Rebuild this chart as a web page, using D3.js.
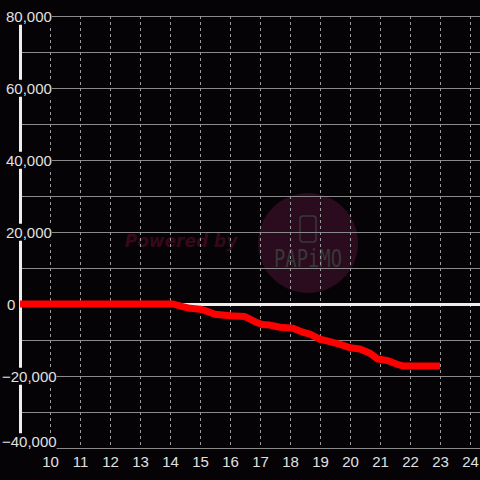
<!DOCTYPE html>
<html>
<head>
<meta charset="utf-8">
<script src="https://d3js.org/d3.v7.min.js"></script>
<style>
  body { margin: 0; background: #050306; }
  svg { display: block; }
</style>
</head>
<body>
<div id="chart"></div>
<script>
var svgWidth = 480;
var svgHeight = 480;

// hours of the day and the running value
var hours = [9, 14.1, 14.33, 14.67, 15.0, 15.17, 15.5, 16.0, 16.5, 16.83, 17.07, 17.33, 17.67, 18.1,
  18.43, 18.67, 19.0, 19.33, 19.67, 20.0, 20.33, 20.67, 20.93, 21.27, 21.57, 21.77, 23.0];
var values = [0, 0, -550, -1200, -1450, -1850, -2850, -3250, -3500, -4900, -5700, -5850, -6450, -6750,
  -7850, -8350, -9800, -10450, -11200, -12150, -12500, -13700, -15300, -15750, -16750, -17200, -17200];

var yTicks = [-40000, -20000, 0, 20000, 40000, 60000, 80000];
var yGrid = [-40000, -30000, -20000, -10000, 10000, 20000, 30000, 40000, 50000, 60000, 70000, 80000];
var xTicks = [10, 11, 12, 13, 14, 15, 16, 17, 18, 19, 20, 21, 22, 23, 24];

var lineData = hours.map(function(h, i) { return {hour: h, value: values[i]}; });

var svg = d3.select("#chart")
  .append("svg")
  .attr("width", svgWidth)
  .attr("height", svgHeight);

svg.append("rect")
  .attr("width", svgWidth)
  .attr("height", svgHeight)
  .attr("fill", "#050306");

var xScale = d3.scaleLinear()
  .domain([9, 24])
  .range([20, 470]);

var yScale = d3.scaleLinear()
  .domain([-40000, 80000])
  .range([448, 16]);

// watermark, sits under the grid
var wm = svg.append("g");
wm.append("circle")
  .attr("cx", 308)
  .attr("cy", 243)
  .attr("r", 50)
  .attr("fill", "#2b0b1e");
wm.append("rect")
  .attr("x", 300).attr("y", 216)
  .attr("width", 16).attr("height", 26)
  .attr("rx", 3)
  .attr("fill", "none")
  .attr("stroke", "#3a3a3a")
  .attr("stroke-width", 1.5);
wm.append("text")
  .attr("x", 308)
  .attr("y", 267)
  .attr("text-anchor", "middle")
  .attr("font-family", "DejaVu Sans Mono")
  .attr("font-size", 24)
  .attr("textLength", 68)
  .attr("lengthAdjust", "spacingAndGlyphs")
  .attr("fill", "#383838")
  .text("PAPiMO");
wm.append("text")
  .attr("x", 181)
  .attr("y", 247)
  .attr("text-anchor", "middle")
  .attr("font-family", "DejaVu Sans")
  .attr("font-weight", "bold")
  .attr("font-style", "italic")
  .attr("font-size", 17)
  .attr("fill", "#36091a")
  .text("Powered by");

// horizontal grid
svg.append("g")
  .selectAll("line")
  .data(yGrid)
  .enter()
  .append("line")
  .attr("x1", 20)
  .attr("x2", svgWidth)
  .attr("y1", d => yScale(d) + 0.5)
  .attr("y2", d => yScale(d) + 0.5)
  .attr("stroke", "#8a8a8a")
  .attr("stroke-width", 1);

// vertical dashed grid
svg.append("g")
  .selectAll("line")
  .data(xTicks)
  .enter()
  .append("line")
  .attr("x1", d => xScale(d) + 0.5)
  .attr("x2", d => xScale(d) + 0.5)
  .attr("y1", 16)
  .attr("y2", 448)
  .attr("stroke", "#9a9a9a")
  .attr("stroke-width", 1)
  .attr("stroke-dasharray", "3,3");

// y axis line
svg.append("line")
  .attr("x1", 20.5).attr("x2", 20.5)
  .attr("y1", 16).attr("y2", 448)
  .attr("stroke", "#eeeeee")
  .attr("stroke-width", 3);

// zero line
svg.append("line")
  .attr("x1", 20)
  .attr("x2", svgWidth)
  .attr("y1", yScale(0) + 0.5)
  .attr("y2", yScale(0) + 0.5)
  .attr("stroke", "#eeeeee")
  .attr("stroke-width", 3);

var lineGenerator = d3.line()
  .x(d => xScale(d.hour))
  .y(d => yScale(d.value));

svg.append("path")
  .attr("fill", "none")
  .attr("stroke", "#ff0000")
  .attr("stroke-width", 7)
  .attr("stroke-linejoin", "round")
  .attr("d", lineGenerator(lineData));

// y labels with dark backing
var fmt = d3.format(",");
var yLab = svg.append("g")
  .selectAll("g")
  .data(yTicks)
  .enter()
  .append("g");
yLab.append("text")
  .attr("x", d => d < 0 ? 2 : (d === 0 ? 7 : 6))
  .attr("y", d => Math.min(yScale(d) + 0.5, 442))
  .attr("dy", "0.35em")
  .attr("font-family", "Liberation Sans, Arial, sans-serif")
  .attr("font-size", 15)
  .attr("fill", "#e0e0e0")
  .text(d => fmt(d))
  .each(function() {
    var b = this.getBBox();
    d3.select(this.parentNode).insert("rect", "text")
      .attr("x", b.x - 1)
      .attr("y", b.y)
      .attr("width", b.width + 1)
      .attr("height", b.height)
      .attr("fill", "#050306");
  });

// x labels
svg.append("g")
  .selectAll("text")
  .data(xTicks)
  .enter()
  .append("text")
  .attr("x", d => xScale(d) + 0.5)
  .attr("y", 462)
  .attr("dy", "0.35em")
  .attr("text-anchor", "middle")
  .attr("font-family", "Liberation Sans, Arial, sans-serif")
  .attr("font-size", 15)
  .attr("fill", "#e0e0e0")
  .text(d => d);
</script>
</body>
</html>
